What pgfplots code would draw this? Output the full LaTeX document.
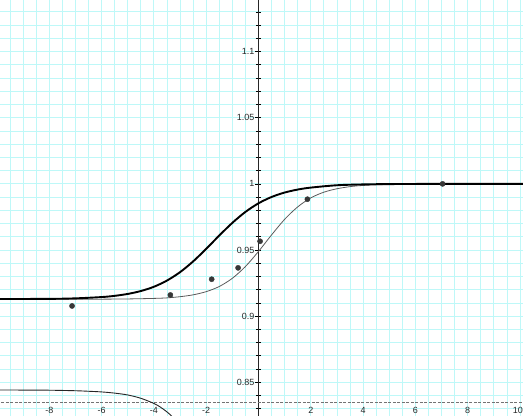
\documentclass[border=0pt]{standalone}
\usepackage{fontspec}
\setmainfont{Liberation Sans}
\usepackage{pgfplots}
\pgfplotsset{compat=1.18}

\definecolor{gridcyan}{RGB}{190,248,248}
\definecolor{dotgray}{RGB}{55,55,55}
\definecolor{thingray}{RGB}{90,90,90}

\pgfplotsset{
  frame/.style={
    scale only axis, width=523bp, height=416bp,
    xmin=-9.885, xmax=10.115, ymin=0.8245, ymax=1.139,
  },
}

\begin{document}
\begin{tikzpicture}
% background grid
\begin{axis}[frame, name=grid,
  xtick={-10,-9.5,...,10.5},
  ytick={0.82,0.83,0.84,0.85,0.86,0.87,0.88,0.89,0.90,0.91,0.92,0.93,0.94,0.95,0.96,0.97,0.98,0.99,1.00,1.01,1.02,1.03,1.04,1.05,1.06,1.07,1.08,1.09,1.10,1.11,1.12,1.13,1.14},
  xticklabels={}, yticklabels={},
  axis line style={draw=none}, tick style={draw=none},
  grid=major, grid style={color=gridcyan, line width=0.8bp},
]
\end{axis}

% axis and data
\begin{axis}[frame,
  axis x line=none, axis y line=center,
  every inner y axis line/.append style={-, draw=black!85, line width=0.8bp},
  ytick={0.85,0.9,0.95,1,1.05,1.1},
  minor ytick={0.83,0.84,0.86,0.87,0.88,0.89,0.91,0.92,0.93,0.94,0.96,0.97,0.98,0.99,1.01,1.02,1.03,1.04,1.06,1.07,1.08,1.09,1.11,1.12,1.13},
  tick align=center, major tick length=6bp, minor tick length=5bp,
  tick style={black, line width=0.7bp},
  /pgf/number format/assume math mode=true,
  yticklabel style={font=\fontsize{9}{10}\selectfont, inner sep=1bp, text=black!85},
]
% x axis (dashed) and its labels
\draw[black!55, dash pattern=on 3bp off 1.5bp, line width=1bp] (axis cs:-10,0.8346) -- (axis cs:10.5,0.8346);
\pgfplotsinvokeforeach{-8,-6,-4,-2,2,4,6,8}{
  \node[font=\fontsize{9}{10}\selectfont, text=black!85, anchor=north, inner sep=0pt] at (axis cs:#1,0.8310) {#1};
}
\node[font=\fontsize{9}{10}\selectfont, text=black!85, anchor=north east, inner sep=0pt] at (axis cs:10.115,0.8310) {10};

% lower curve
\addplot[black!85, line width=0.9bp, smooth] coordinates {
(-10,0.8442) (-9,0.8441) (-8,0.8440) (-7,0.8436) (-6.5,0.8432) (-6,0.8427)
(-5.5,0.8418) (-5,0.8404) (-4.5,0.8379) (-4,0.8340) (-3.75,0.8312)
(-3.5,0.8276) (-3.25,0.8231) (-3,0.8173)
};

% thin curve
\addplot[thingray, line width=0.8bp, smooth] coordinates {
(-10,0.9128) (-7,0.91281) (-6,0.91283) (-5,0.9130) (-4,0.9134) (-3.5,0.9138)
(-3,0.9147) (-2.5,0.9161) (-2,0.9185) (-1.5,0.9224) (-1,0.9286)
(-0.5,0.9375) (0,0.9489) (0.5,0.9614) (1,0.9732) (1.5,0.9826)
(2,0.9894) (2.5,0.9937) (3,0.9963) (3.5,0.9979) (4,0.9988)
(5,0.9996) (6,0.9999) (8,1.0) (10.5,1.0)
};

% thick curve
\addplot[black, line width=1.9bp, smooth] coordinates {
(-10,0.91294) (-8,0.91305) (-7,0.91344) (-6,0.91441) (-5.5,0.91534)
(-5,0.91678) (-4.5,0.91897) (-4,0.92221) (-3.5,0.92689) (-3,0.93324)
(-2.5,0.94136) (-2,0.95087) (-1.5,0.96094) (-1,0.97052) (-0.5,0.97878)
(0,0.98530) (0.5,0.99008) (1,0.99344) (1.5,0.99569) (2,0.99717)
(3,0.99895) (4,0.99958) (5,0.99983) (7,0.99998) (10.5,1.0)
};

% data points
\addplot[only marks, mark=*, mark size=2.6bp, dotgray] coordinates {
(-7.13,0.9077) (-3.37,0.9160) (-1.79,0.9279) (-0.78,0.9365)
(0.06,0.9566) (1.87,0.9884) (7.04,1.0000)
};
\end{axis}
\pgfresetboundingbox
\useasboundingbox (grid.south west) rectangle (grid.north east);
\end{tikzpicture}
\end{document}
